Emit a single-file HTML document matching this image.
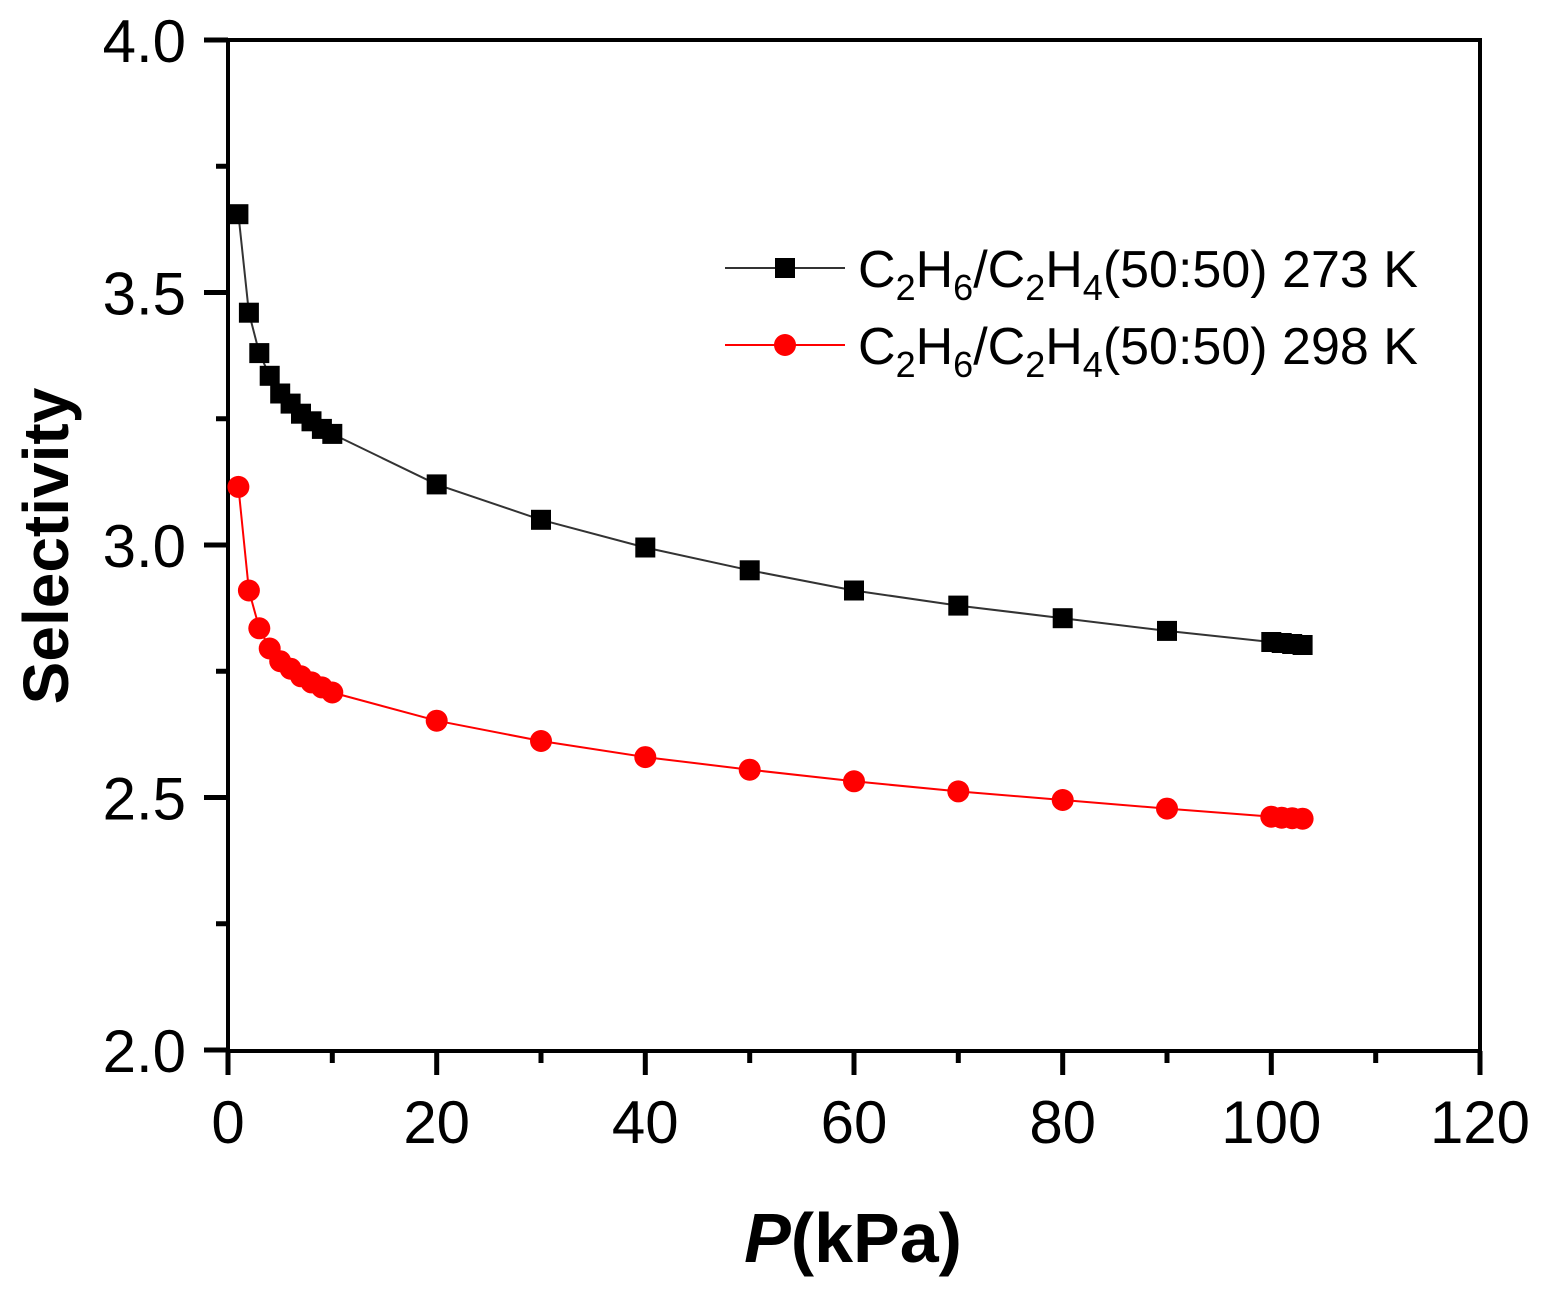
<!DOCTYPE html>
<html><head><meta charset="utf-8"><style>body{margin:0;background:#fff}</style></head><body>
<svg width="1544" height="1292" xmlns="http://www.w3.org/2000/svg" xmlns:xlink="http://www.w3.org/1999/xlink" font-family="Liberation Sans, Arial, sans-serif">
<defs>
<rect id="sq" x="-10" y="-10" width="20" height="20" fill="#000"/>
<circle id="ci" r="11" fill="#f00"/>
</defs>
<g stroke="#000" stroke-width="5">
<line x1="228" x2="228" y1="1051" y2="1075"/>
<line x1="332.3" x2="332.3" y1="1051" y2="1063"/>
<line x1="436.7" x2="436.7" y1="1051" y2="1075"/>
<line x1="541" x2="541" y1="1051" y2="1063"/>
<line x1="645.3" x2="645.3" y1="1051" y2="1075"/>
<line x1="749.7" x2="749.7" y1="1051" y2="1063"/>
<line x1="854" x2="854" y1="1051" y2="1075"/>
<line x1="958.3" x2="958.3" y1="1051" y2="1063"/>
<line x1="1062.7" x2="1062.7" y1="1051" y2="1075"/>
<line x1="1167" x2="1167" y1="1051" y2="1063"/>
<line x1="1271.3" x2="1271.3" y1="1051" y2="1075"/>
<line x1="1375.7" x2="1375.7" y1="1051" y2="1063"/>
<line x1="1480" x2="1480" y1="1051" y2="1075"/>
<line x1="204" x2="228" y1="1050" y2="1050"/>
<line x1="216" x2="228" y1="923.75" y2="923.75"/>
<line x1="204" x2="228" y1="797.5" y2="797.5"/>
<line x1="216" x2="228" y1="671.25" y2="671.25"/>
<line x1="204" x2="228" y1="545" y2="545"/>
<line x1="216" x2="228" y1="418.75" y2="418.75"/>
<line x1="204" x2="228" y1="292.5" y2="292.5"/>
<line x1="216" x2="228" y1="166.25" y2="166.25"/>
<line x1="204" x2="228" y1="40" y2="40"/>
</g>
<rect x="228" y="40" width="1252" height="1011" fill="none" stroke="#000" stroke-width="4"/>
<g font-size="60" text-anchor="middle">
<text x="228" y="1143">0</text><text x="436.7" y="1143">20</text><text x="645.3" y="1143">40</text><text x="854" y="1143">60</text><text x="1062.7" y="1143">80</text><text x="1271.3" y="1143">100</text><text x="1480" y="1143">120</text>
</g>
<g font-size="60" text-anchor="end">
<text x="186" y="1072">2.0</text><text x="186" y="819.5">2.5</text><text x="186" y="567">3.0</text><text x="186" y="314.5">3.5</text><text x="186" y="62">4.0</text>
</g>
<polyline fill="none" stroke="#333" stroke-width="2" points="238.4,214.2 248.9,312.7 259.3,353.1 269.7,375.8 280.2,393.5 290.6,403.6 301,413.7 311.5,421.3 321.9,428.9 332.3,433.9 436.7,484.4 541,519.8 645.3,547.5 749.7,570.3 854,590.5 958.3,605.6 1062.7,618.2 1167,630.9 1271.3,642 1281.7,643 1292.2,644 1302.6,645"/>
<polyline fill="none" stroke="#f00" stroke-width="2" points="238.4,486.9 248.9,590.5 259.3,628.3 269.7,648.5 280.2,661.2 290.6,668.7 301,676.3 311.5,682.4 321.9,687.4 332.3,692.5 436.7,720.7 541,741 645.3,757.1 749.7,769.7 854,781.3 958.3,791.4 1062.7,800 1167,808.6 1271.3,816.7 1281.7,817.7 1292.2,818.2 1302.6,818.7"/>
<g>
<use xlink:href="#sq" x="238.4" y="214.2"/><use xlink:href="#sq" x="248.9" y="312.7"/><use xlink:href="#sq" x="259.3" y="353.1"/><use xlink:href="#sq" x="269.7" y="375.8"/><use xlink:href="#sq" x="280.2" y="393.5"/><use xlink:href="#sq" x="290.6" y="403.6"/><use xlink:href="#sq" x="301" y="413.7"/><use xlink:href="#sq" x="311.5" y="421.3"/><use xlink:href="#sq" x="321.9" y="428.9"/><use xlink:href="#sq" x="332.3" y="433.9"/><use xlink:href="#sq" x="436.7" y="484.4"/><use xlink:href="#sq" x="541" y="519.8"/><use xlink:href="#sq" x="645.3" y="547.5"/><use xlink:href="#sq" x="749.7" y="570.3"/><use xlink:href="#sq" x="854" y="590.5"/><use xlink:href="#sq" x="958.3" y="605.6"/><use xlink:href="#sq" x="1062.7" y="618.2"/><use xlink:href="#sq" x="1167" y="630.9"/><use xlink:href="#sq" x="1271.3" y="642"/><use xlink:href="#sq" x="1281.7" y="643"/><use xlink:href="#sq" x="1292.2" y="644"/><use xlink:href="#sq" x="1302.6" y="645"/>
<use xlink:href="#ci" x="238.4" y="486.9"/><use xlink:href="#ci" x="248.9" y="590.5"/><use xlink:href="#ci" x="259.3" y="628.3"/><use xlink:href="#ci" x="269.7" y="648.5"/><use xlink:href="#ci" x="280.2" y="661.2"/><use xlink:href="#ci" x="290.6" y="668.7"/><use xlink:href="#ci" x="301" y="676.3"/><use xlink:href="#ci" x="311.5" y="682.4"/><use xlink:href="#ci" x="321.9" y="687.4"/><use xlink:href="#ci" x="332.3" y="692.5"/><use xlink:href="#ci" x="436.7" y="720.7"/><use xlink:href="#ci" x="541" y="741"/><use xlink:href="#ci" x="645.3" y="757.1"/><use xlink:href="#ci" x="749.7" y="769.7"/><use xlink:href="#ci" x="854" y="781.3"/><use xlink:href="#ci" x="958.3" y="791.4"/><use xlink:href="#ci" x="1062.7" y="800"/><use xlink:href="#ci" x="1167" y="808.6"/><use xlink:href="#ci" x="1271.3" y="816.7"/><use xlink:href="#ci" x="1281.7" y="817.7"/><use xlink:href="#ci" x="1292.2" y="818.2"/><use xlink:href="#ci" x="1302.6" y="818.7"/>
</g>
<line x1="725" x2="845" y1="268" y2="268" stroke="#333" stroke-width="2"/><use xlink:href="#sq" x="785" y="268"/>
<line x1="725" x2="845" y1="345" y2="345" stroke="#f00" stroke-width="2"/><use xlink:href="#ci" x="785" y="345"/>
<text x="858" y="287" font-size="52">C<tspan font-size="36" dy="13">2</tspan><tspan dy="-13">H</tspan><tspan font-size="36" dy="13">6</tspan><tspan dy="-13">/C</tspan><tspan font-size="36" dy="13">2</tspan><tspan dy="-13">H</tspan><tspan font-size="36" dy="13">4</tspan><tspan dy="-13">(50:50) 273 K</tspan></text>
<text x="858" y="364" font-size="52">C<tspan font-size="36" dy="13">2</tspan><tspan dy="-13">H</tspan><tspan font-size="36" dy="13">6</tspan><tspan dy="-13">/C</tspan><tspan font-size="36" dy="13">2</tspan><tspan dy="-13">H</tspan><tspan font-size="36" dy="13">4</tspan><tspan dy="-13">(50:50) 298 K</tspan></text>
<text transform="translate(68,546) rotate(-90)" font-size="64" font-weight="bold" text-anchor="middle">Selectivity</text>
<text x="853" y="1262" font-size="70" font-weight="bold" text-anchor="middle"><tspan font-style="italic">P</tspan>(kPa)</text>
</svg>
</body></html>
